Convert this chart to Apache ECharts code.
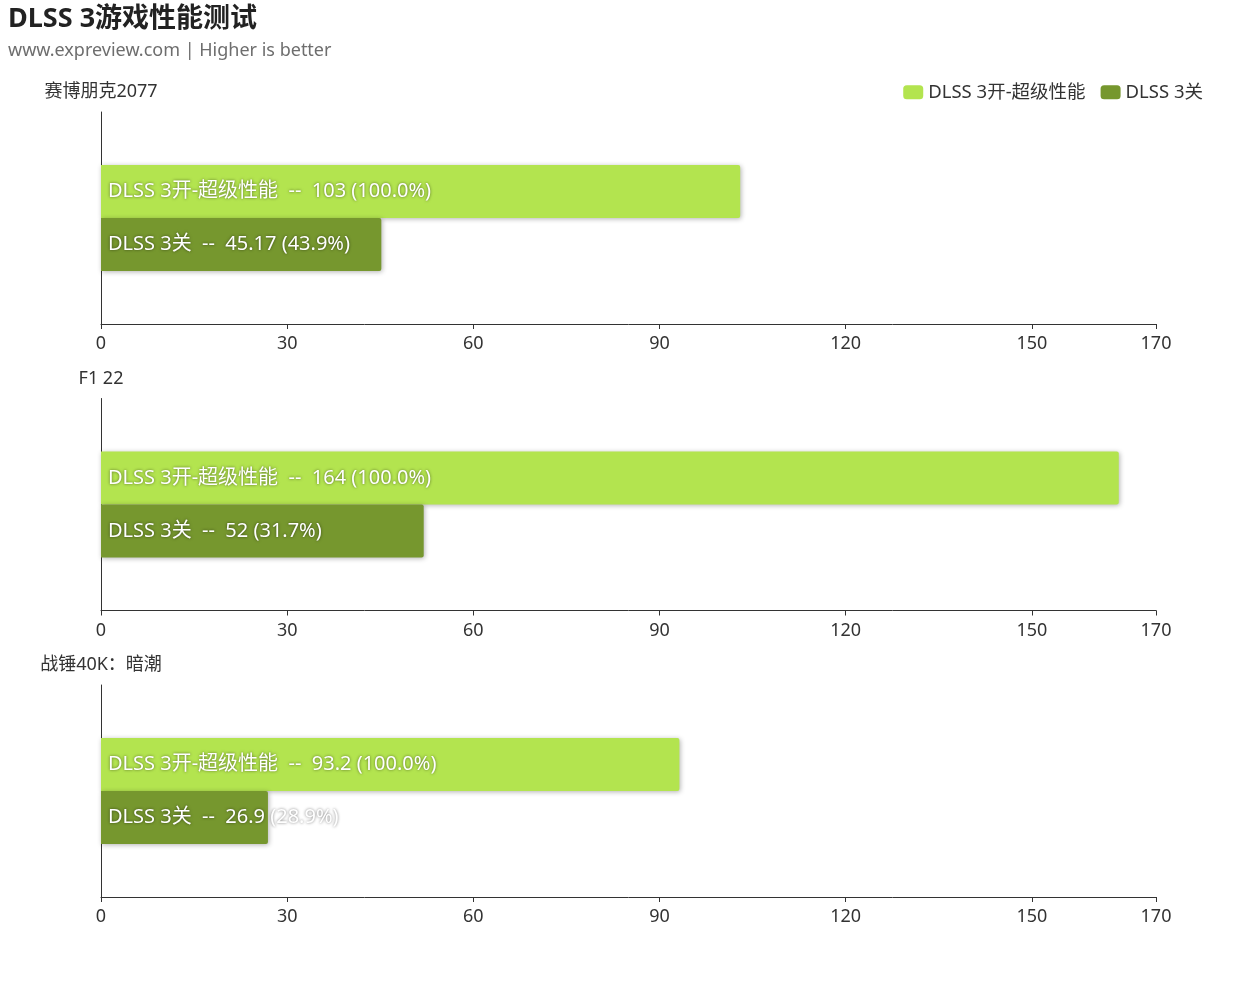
<!doctype html>
<html lang="zh">
<head>
    <meta charset="UTF-8">
    <title>DLSS 3游戏性能测试</title>
    <style>
        *{margin: 0; padding: 0}
        body{background: #fff}
        #block{width: 1255px; height: 991px}
    </style>
</head>
<body>
<div id="block"></div>

<script src="https://cdn.jsdelivr.net/npm/echarts@6/dist/echarts.min.js"></script>
<script>
    // data
    const games = ['赛博朋克2077', 'F1 22', '战锤40K：暗潮'];
    const seriesNames = ['DLSS 3开-超级性能', 'DLSS 3关'];
    const dlssOn = [103, 164, 93.2];
    const dlssOff = [45.17, 52, 26.9];
    const xTicks = [0, 30, 60, 90, 120, 150, 170];

    const colors = ['#b3e44f', '#76972e'];
    const font = '"Noto Sans", "Noto Sans CJK SC", sans-serif';

    const chart = echarts.init(document.getElementById('block'));

    let grids = [], xAxes = [], yAxes = [], series = [];
    games.forEach((g, i) => {
        grids.push({left: 101, right: 99, top: 112 + i * 286.5, height: 212});
        xAxes.push({
            type: 'value', gridIndex: i, min: 0, max: 170, interval: 30,
            splitLine: {show: false},
            axisLine: {show: true, lineStyle: {color: '#333'}},
            axisTick: {show: true, lineStyle: {color: '#333'}},
            axisLabel: {
                color: '#333', fontSize: 18, margin: 11, fontFamily: font,
                showMaxLabel: true,
                formatter: v => xTicks.indexOf(v) >= 0 ? String(v) : ''
            }
        });
        yAxes.push({
            type: 'category', gridIndex: i, data: [g],
            name: g, nameLocation: 'end', nameGap: 11,
            nameTextStyle: {color: '#333', fontSize: 18, fontFamily: font},
            axisLine: {show: true, lineStyle: {color: '#333'}},
            axisTick: {show: false},
            axisLabel: {show: false}
        });
        const base = dlssOn[i];
        const mk = (name, val, color) => ({
            name: name, type: 'bar', xAxisIndex: i, yAxisIndex: i,
            data: [val], barGap: 0, barCategoryGap: '50%',
            itemStyle: {
                color: color, borderRadius: [0, 2, 2, 0],
                shadowBlur: 5, shadowColor: 'rgba(0,0,0,0.3)', shadowOffsetX: 1, shadowOffsetY: 1
            },
            label: {
                show: true, position: 'insideLeft', distance: 7,
                color: '#fff', fontSize: 20, fontFamily: font,
                textShadowColor: 'rgba(0,0,0,0.55)', textShadowBlur: 3,
                formatter: p => p.seriesName + '  --  ' + p.value + ' (' + (p.value / base * 100).toFixed(1) + '%)'
            }
        });
        series.push(mk(seriesNames[0], dlssOn[i], colors[0]));
        series.push(mk(seriesNames[1], dlssOff[i], colors[1]));
    });

    const option = {
        animation: false,
        color: colors,
        title: {
            text: 'DLSS 3游戏性能测试',
            subtext: 'www.expreview.com | Higher is better',
            left: 3, top: 1, itemGap: 9,
            textStyle: {fontSize: 27, fontWeight: 'bold', color: '#222', fontFamily: font},
            subtextStyle: {fontSize: 18, color: '#6e6e6e', fontFamily: font}
        },
        legend: {
            data: seriesNames, right: 47, top: 78,
            itemWidth: 20, itemHeight: 14, itemGap: 15,
            textStyle: {fontSize: 18.5, color: '#333', fontFamily: font}
        },
        grid: grids,
        xAxis: xAxes,
        yAxis: yAxes,
        series: series
    };
    chart.setOption(option);
</script>
</body>
</html>
